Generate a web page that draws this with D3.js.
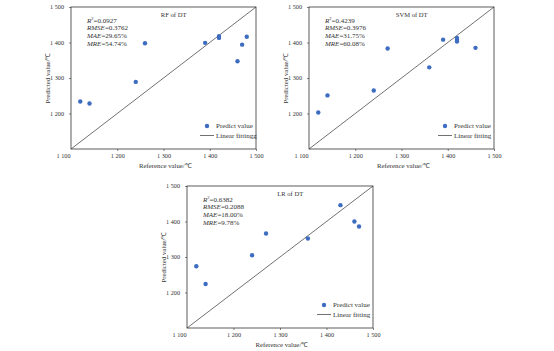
<!DOCTYPE html>
<html><head><meta charset="utf-8">
<script src="https://cdn.jsdelivr.net/npm/d3@7"></script>
<style>body{margin:0;background:#fff}svg{display:block}text{font-family:"Liberation Serif","Times New Roman",serif;fill:#333}</style>
</head><body>
<svg id="c" width="554" height="351"></svg>
<script>
// ---- data ----
const xTicks = [1100, 1200, 1300, 1400, 1500];
const yTicks = [1200, 1300, 1400, 1500];
const rfRef  = [1120, 1140, 1240, 1260, 1390, 1420, 1420, 1460, 1470, 1480];
const rfPred = [1234, 1228, 1289, 1398, 1399, 1418, 1413, 1347, 1394, 1416];
const svmRef  = [1120, 1140, 1240, 1270, 1360, 1390, 1420, 1420, 1420, 1460];
const svmPred = [1203, 1251, 1265, 1383, 1330, 1408, 1413, 1408, 1403, 1385];
const lrRef  = [1120, 1140, 1240, 1270, 1360, 1430, 1460, 1470];
const lrPred = [1274, 1224, 1305, 1366, 1352, 1446, 1400, 1386];
const titles = ["RF of DT", "SVM of DT", "LR of DT"];
const stats = [
  [["R", "2", "=0.0927"], ["RMSE", "", "=0.3762"], ["MAE", "", "=29.65%"], ["MRE", "", "=54.74%"]],
  [["R", "2", "=0.4239"], ["RMSE", "", "=0.3976"], ["MAE", "", "=31.75%"], ["MRE", "", "=60.08%"]],
  [["R", "2", "=0.6382"], ["RMSE", "", "=0.2088"], ["MAE", "", "=18.00%"], ["MRE", "", "=9.78%"]]
];
const legendLabels = [["Predict value", "Linear fittingg"], ["Predict value", "Linear fitting"], ["Predict value", "Linear fitting"]];
const xTitle = "Reference value/℃";
const yTitle = "Predicted value/℃";

// ---- layout ----
const panels = [
  {x: 71, y: 7, w: 185, h: 142, ref: rfRef, pred: rfPred},
  {x: 309, y: 7, w: 185, h: 142, ref: svmRef, pred: svmPred},
  {x: 187, y: 186, w: 186, h: 142, ref: lrRef, pred: lrPred}
];
const fmt = v => String(v).replace(/(\d)(\d{3})$/, "$1 $2");
const svg = d3.select("#c");
const dotColor = "#3d6cc0";
const lineColor = "#333";

panels.forEach((p, i) => {
  const g = svg.append("g").attr("transform", `translate(${p.x},${p.y})`);
  const x = d3.scaleLinear().domain([1100, 1500]).range([0, p.w]);
  const y = d3.scaleLinear().domain([1100, 1500]).range([p.h, 0]);

  // frame
  g.append("rect").attr("width", p.w).attr("height", p.h)
    .attr("fill", "none").attr("stroke", lineColor).attr("stroke-width", 0.8);

  const xa = g.append("g").attr("transform", `translate(0,${p.h})`)
    .call(d3.axisBottom(x).tickValues(xTicks).tickSize(2).tickPadding(3).tickFormat(fmt));
  xa.select(".domain").remove();
  xa.selectAll("line").attr("stroke", lineColor).attr("stroke-width", 0.6);
  xa.selectAll("text").attr("font-size", 6.2).attr("fill", "#333")
    .attr("font-family", "Liberation Serif")
    .attr("text-anchor", d => d === 1100 ? "end" : "middle")
    .attr("dx", d => d === 1100 ? -1 : 0);
  xa.selectAll(".tick").filter(d => d === 1100).select("line").remove();

  const ya = g.append("g")
    .call(d3.axisLeft(y).tickValues(yTicks).tickSize(2).tickPadding(5).tickFormat(fmt));
  ya.select(".domain").remove();
  ya.selectAll("line").attr("stroke", lineColor).attr("stroke-width", 0.6);
  ya.selectAll("text").attr("font-size", 6.2).attr("fill", "#333").attr("font-family", "Liberation Serif");

  // diagonal fitting line
  g.append("line").attr("x1", x(1100)).attr("y1", y(1100)).attr("x2", x(1500)).attr("y2", y(1500))
    .attr("stroke", lineColor).attr("stroke-width", 0.7);

  // points
  g.selectAll("circle.pt").data(p.ref.map((r, k) => [r, p.pred[k]])).enter()
    .append("circle").attr("class", "pt")
    .attr("cx", d => x(d[0])).attr("cy", d => y(d[1])).attr("r", 2.2).attr("fill", dotColor);

  // title
  g.append("text").attr("x", p.w * 0.555).attr("y", 10).attr("text-anchor", "middle")
    .attr("font-size", 6.6).text(titles[i]);

  // stats
  stats[i].forEach((s, k) => {
    const t = g.append("text").attr("x", 16).attr("y", 15.5 + k * 7.8).attr("font-size", 7);
    t.append("tspan").attr("font-style", "italic").text(s[0]);
    if (s[1]) t.append("tspan").attr("font-size", 4.5).attr("dy", -2.5).text(s[1]);
    t.append("tspan").attr("dy", s[1] ? 2.5 : 0).text(s[2]);
  });

  // legend
  const lx = p.w - 56, ly = p.h - 23;
  g.append("circle").attr("cx", lx + 7).attr("cy", ly).attr("r", 2.2).attr("fill", dotColor);
  g.append("text").attr("x", lx + 16).attr("y", ly + 2.3).attr("font-size", 7).text(legendLabels[i][0]);
  g.append("line").attr("x1", lx).attr("x2", lx + 14).attr("y1", ly + 9.5).attr("y2", ly + 9.5)
    .attr("stroke", lineColor).attr("stroke-width", 0.7);
  g.append("text").attr("x", lx + 16).attr("y", ly + 11.8).attr("font-size", 7).text(legendLabels[i][1]);

  // axis titles
  g.append("text").attr("x", p.w * 0.51).attr("y", p.h + 19).attr("text-anchor", "middle")
    .attr("font-size", 6.8).text(xTitle);
  g.append("text").attr("transform", `translate(-21,${p.h / 2}) rotate(-90)`)
    .attr("text-anchor", "middle").attr("font-size", 6.8).text(yTitle);
});
</script>
</body></html>
